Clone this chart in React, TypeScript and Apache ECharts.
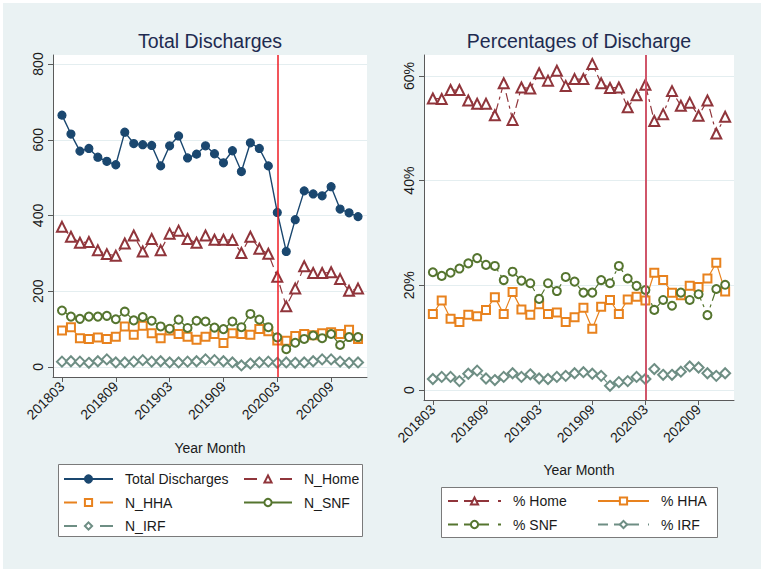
import React, { useEffect, useRef } from 'react';
import * as echarts from 'echarts';

const months = [
  '201803', '201804', '201805', '201806', '201807', '201808', '201809', '201810', '201811', '201812',
  '201901', '201902', '201903', '201904', '201905', '201906', '201907', '201908', '201909', '201910', '201911', '201912',
  '202001', '202002', '202003', '202004', '202005', '202006', '202007', '202008', '202009', '202010', '202011', '202012',
];

const xTickLabels = ['201803', '201809', '201903', '201909', '202003', '202009'];
const eventMonth = '202003';
const leftYTicks = [0, 200, 400, 600, 800];
const rightYTicks = [0, 20, 40, 60];

const totalDischarges = [665, 615, 570, 577, 554, 543, 534, 620, 590, 587, 585, 531, 584, 610, 552, 562, 584, 563, 539, 571, 516, 592, 577, 531, 408, 305, 389, 465, 457, 452, 476, 417, 407, 397];
const nHome = [370, 344, 328, 330, 308, 298, 294, 326, 347, 305, 338, 308, 352, 360, 338, 328, 347, 336, 336, 335, 301, 344, 312, 299, 238, 160, 207, 266, 248, 248, 250, 232, 201, 207];
const nHHA = [96, 105, 76, 74, 78, 74, 80, 107, 85, 109, 89, 76, 96, 87, 80, 72, 80, 87, 63, 89, 87, 85, 100, 94, 70, 69, 82, 87, 84, 89, 92, 87, 98, 74];
const nSNF = [149, 133, 127, 133, 133, 135, 126, 146, 123, 132, 122, 107, 101, 125, 103, 122, 120, 104, 100, 120, 105, 140, 125, 105, 78, 47, 64, 74, 83, 76, 87, 58, 79, 79];
const nIRF = [14, 15, 14, 11, 15, 20, 12, 12, 14, 18, 14, 15, 12, 12, 14, 15, 20, 18, 15, 12, 4, 9, 12, 14, 11, 12, 11, 12, 15, 20, 20, 14, 11, 12];

const pctHome = [55.7, 55.6, 57.3, 57.3, 55.3, 54.7, 54.7, 52.5, 58.6, 51.6, 57.8, 57.6, 60.5, 59.1, 61.0, 58.1, 59.4, 59.4, 62.3, 58.6, 57.7, 57.8, 54.0, 56.3, 58.3, 51.4, 52.7, 57.1, 54.3, 54.9, 52.4, 55.3, 49.0, 52.2];
const pctHHA = [14.5, 17.1, 13.6, 13.0, 14.4, 14.1, 15.3, 17.7, 14.5, 18.7, 15.4, 14.4, 16.4, 14.5, 14.8, 13.0, 13.9, 15.7, 11.7, 15.9, 17.2, 14.5, 17.3, 17.8, 17.1, 22.4, 21.0, 18.6, 18.1, 19.9, 19.7, 21.3, 24.3, 18.8];
const pctSNF = [22.5, 21.8, 22.4, 23.2, 24.2, 25.2, 23.9, 23.7, 21.0, 22.6, 20.9, 20.4, 17.4, 20.4, 18.9, 21.6, 20.7, 18.6, 18.6, 21.0, 20.4, 23.7, 21.3, 19.9, 19.1, 15.3, 17.2, 16.1, 18.6, 17.2, 18.3, 14.3, 19.3, 20.1];
const pctIRF = [2.1, 2.5, 2.5, 1.7, 3.1, 3.7, 2.2, 1.9, 2.5, 3.2, 2.5, 3.0, 2.2, 2.1, 2.5, 2.7, 3.2, 3.4, 3.1, 2.7, 0.8, 1.5, 1.7, 2.5, 2.1, 4.0, 2.9, 2.9, 3.5, 4.5, 4.3, 3.2, 2.7, 3.2];

const FONT = "'Liberation Sans', Arial, Helvetica, sans-serif";
const NAVY = '#1a476f';
const MAROON = '#90353b';
const ORANGE = '#e8821e';
const GREEN = '#55752f';
const TEAL = '#6e8e84';
const AXIS = '#5a5a5a';
const GRIDLINE = '#e4eef0';

const DASH_L = [9, 5];
const DASH_R = [9, 4, 3, 4];
const LEG_DASH_L = [13, 23];
const LEG_DASH_R = [10, 6, 25, 9, 3];

const pairs = (vals: number[]) => vals.map((v, i) => [i, v]);
const xTickIdx = xTickLabels.map((l) => months.indexOf(l));
const eventIdx = months.indexOf(eventMonth);

function line(
  name: string,
  vals: number[],
  panel: number,
  color: string,
  symbol: string,
  size: number,
  dash: any,
  width: number = 1.2,
  extra: any = {}
) {
  return {
    name,
    type: 'line',
    xAxisIndex: panel,
    yAxisIndex: panel,
    data: pairs(vals),
    symbol,
    symbolSize: size,
    showSymbol: true,
    z: 3,
    lineStyle: { color, width, type: dash },
    itemStyle: { color, borderColor: color, borderWidth: 1.2 },
    emphasis: { disabled: true },
    ...extra,
  };
}

function eventLine(color: string, width: number) {
  return {
    silent: true,
    z: 4,
    symbol: ['none', 'none'],
    label: { show: false },
    lineStyle: { color, width, type: 'solid', opacity: 1 },
    emphasis: { disabled: true },
    data: [{ xAxis: eventIdx }],
  };
}

function xAxisFor(grid: number, gap: number) {
  return {
    type: 'value',
    gridIndex: grid,
    min: -1,
    max: months.length,
    axisLine: { show: true, onZero: false, lineStyle: { color: AXIS, width: 1 } },
    axisTick: { show: true, length: 5, customValues: xTickIdx, lineStyle: { color: AXIS } },
    axisLabel: {
      customValues: xTickIdx,
      rotate: 45,
      margin: 7,
      fontSize: 14,
      fontFamily: FONT,
      color: '#1a1a1a',
      formatter: (v: number) => months[Math.round(v)],
    },
    splitLine: { show: false },
    name: 'Year Month',
    nameLocation: 'middle',
    nameGap: gap,
    nameTextStyle: { fontSize: 14, fontFamily: FONT, color: '#1a1a1a' },
  };
}

function yAxisFor(grid: number, min: number, max: number, ticks: number[], fmt: (v: number) => string) {
  return {
    type: 'value',
    gridIndex: grid,
    min,
    max,
    axisLine: { show: true, onZero: false, lineStyle: { color: AXIS, width: 1 } },
    axisTick: { show: true, length: 5, customValues: ticks, lineStyle: { color: AXIS } },
    axisLabel: {
      customValues: ticks,
      rotate: 90,
      margin: 8,
      fontSize: 14,
      fontFamily: FONT,
      color: '#1a1a1a',
      formatter: fmt,
    },
    splitLine: { show: true, lineStyle: { color: GRIDLINE, width: 1 } },
  };
}

function legend(items: any[], left: number, top: number, width: number) {
  return {
    data: items.map(([name, dash]) => (dash ? { name, lineStyle: { type: dash } } : { name })),
    orient: 'vertical',
    left,
    top,
    padding: 0,
    itemGap: 9.5,
    itemWidth: width,
    itemHeight: 9,
    selectedMode: false,
    textStyle: { fontSize: 14, fontFamily: FONT, color: '#1a1a1a', padding: [0, 0, 0, 7] },
  };
}

export default function App() {
  const ref = useRef<HTMLDivElement>(null);
  useEffect(() => {
    if (!ref.current) return;
    const chart = echarts.init(ref.current, undefined, { renderer: 'svg' });
    const option: any = {
      animation: false,
      backgroundColor: '#eaf2f3',
      textStyle: { fontFamily: FONT },
      grid: [
        { left: 53, top: 55, width: 314, height: 322, show: true, backgroundColor: '#ffffff', borderWidth: 0 },
        { left: 424, top: 55, width: 310, height: 345, show: true, backgroundColor: '#ffffff', borderWidth: 0 },
      ],
      xAxis: [xAxisFor(0, 64), xAxisFor(1, 63)],
      yAxis: [
        yAxisFor(0, -26.5, 823.8, leftYTicks, (v) => String(v)),
        yAxisFor(1, -1.91, 64.0, rightYTicks, (v) => (v === 0 ? '0' : v + '%')),
      ],
      legend: [
        legend([['Total Discharges', null], ['N_HHA', LEG_DASH_L], ['N_IRF', LEG_DASH_L]], 63, 472, 49),
        legend([['N_Home', LEG_DASH_L], ['N_SNF', null]], 243, 472, 48),
        legend([['% Home', LEG_DASH_R], ['% SNF', LEG_DASH_R]], 447, 494, 53),
        legend([['% HHA', null], ['% IRF', LEG_DASH_R]], 597, 494, 51),
      ],
      graphic: [
        {
          type: 'rect',
          z: 0,
          silent: true,
          shape: { x: 0, y: 0, width: 764, height: 572 },
          style: { fill: 'none', stroke: '#ffffff', lineWidth: 6 },
        },
        {
          type: 'rect',
          z: 0,
          silent: true,
          shape: { x: 58.5, y: 464.5, width: 304, height: 72 },
          style: { fill: '#ffffff', stroke: '#7a7a7a', lineWidth: 1 },
        },
        {
          type: 'rect',
          z: 0,
          silent: true,
          shape: { x: 441.5, y: 487.5, width: 276, height: 50 },
          style: { fill: '#ffffff', stroke: '#7a7a7a', lineWidth: 1 },
        },
        {
          type: 'text',
          x: 210,
          y: 41,
          silent: true,
          style: { text: 'Total Discharges', fontSize: 19.5, fontFamily: FONT, fill: '#1e2b50', align: 'center', verticalAlign: 'middle' },
        },
        {
          type: 'text',
          x: 579,
          y: 41,
          silent: true,
          style: { text: 'Percentages of Discharge', fontSize: 19.5, fontFamily: FONT, fill: '#1e2b50', align: 'center', verticalAlign: 'middle' },
        },
      ],
      series: [
        line('Total Discharges', totalDischarges, 0, NAVY, 'circle', 8, 'solid', 1.4),
        line('N_Home', nHome, 0, MAROON, 'emptyTriangle', 10, DASH_L, 1.2, { markLine: eventLine('#ee1c24', 1.5) }),
        line('N_HHA', nHHA, 0, ORANGE, 'emptyRect', 8, [8, 5]),
        line('N_SNF', nSNF, 0, GREEN, 'emptyCircle', 8, 'solid'),
        line('N_IRF', nIRF, 0, TEAL, 'emptyDiamond', 10, [8, 5]),
        line('% Home', pctHome, 1, MAROON, 'emptyTriangle', 10, DASH_R, 1.2, { markLine: eventLine('#d0566a', 2) }),
        line('% HHA', pctHHA, 1, ORANGE, 'emptyRect', 8, 'solid'),
        line('% SNF', pctSNF, 1, GREEN, 'emptyCircle', 8, DASH_R),
        line('% IRF', pctIRF, 1, TEAL, 'emptyDiamond', 10, DASH_R),
      ],
    };
    chart.setOption(option);
    return () => chart.dispose();
  }, []);
  return <div ref={ref} style={{ position: 'fixed', left: 0, top: 0, width: 764, height: 572 }} />;
}
